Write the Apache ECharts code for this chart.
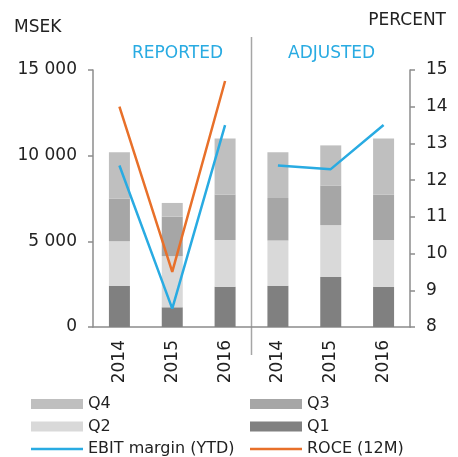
<!DOCTYPE html>
<html>
<head>
<meta charset="utf-8">
<script src="https://cdn.jsdelivr.net/npm/echarts@6/dist/echarts.min.js"></script>
<style>
  html, body { margin: 0; padding: 0; background: #fff; }
  #chart1 { width: 458px; height: 457px; }
</style>
</head>
<body>
<div id="chart1"></div>
<script>
  // values
  let years = ['2014', '2015', '2016', '2014', '2015', '2016'];
  let q1 = [2400, 1150, 2350, 2400, 2920, 2350];
  let q2 = [2600, 2990, 2730, 2650, 3030, 2730];
  let q3 = [2500, 2300, 2660, 2480, 2310, 2660];
  let q4 = [2700, 800, 3260, 2670, 2340, 3260];
  let ebitReported = [12.4, 8.5, 13.5, '-', '-', '-'];
  let ebitAdjusted = ['-', '-', '-', 12.4, 12.3, 13.5];
  let roce = [14.0, 9.5, 14.7, '-', '-', '-'];
  let leftTicks = [0, 15000, 5000];
  let rightTicks = [8, 15, 1];

  let font = 'DejaVu Sans';
  let axisColor = '#8c8c8c';
  let textColor = '#222';
  let blue = '#29abe2';
  let orange = '#e8702a';
  let lineIcon = 'path://M0,0L52,0L52,2.5L0,2.5Z';

  function thousands(v) {
    return String(v).replace(/\B(?=(\d{3})+(?!\d))/g, ' ');
  }

  function barSeries(name, data, color) {
    return {
      name: name,
      type: 'bar',
      stack: 'q',
      barWidth: 21,
      yAxisIndex: 0,
      itemStyle: {color: color},
      data: data
    };
  }

  function lineSeries(name, data, color) {
    return {
      name: name,
      type: 'line',
      yAxisIndex: 1,
      symbol: 'none',
      lineStyle: {color: color, width: 2.5},
      itemStyle: {color: color},
      data: data
    };
  }

  let legendText = {fontFamily: font, fontSize: 16, color: textColor};

  let chart1 = echarts.init(document.getElementById('chart1'));
  chart1.setOption({
    animation: false,
    backgroundColor: '#fff',
    textStyle: {fontFamily: font},
    title: [
      {text: 'MSEK', left: 9, top: 14, textStyle: {fontFamily: font, fontSize: 17, fontWeight: 'normal', color: textColor}},
      {text: 'PERCENT', right: 7, top: 7, textStyle: {fontFamily: font, fontSize: 17, fontWeight: 'normal', color: textColor}},
      {text: 'REPORTED', left: 127, top: 40, textStyle: {fontFamily: font, fontSize: 17, fontWeight: 'normal', color: blue}},
      {text: 'ADJUSTED', left: 283, top: 40, textStyle: {fontFamily: font, fontSize: 17, fontWeight: 'normal', color: blue}}
    ],
    legend: [
      {
        orient: 'vertical', left: 26, top: 391, height: 80,
        itemWidth: 52, itemHeight: 10, itemGap: 6.5,
        textStyle: legendText,
        data: [{name: 'Q4', icon: 'rect'}, {name: 'Q2', icon: 'rect'}, {name: 'EBIT margin (YTD)', icon: lineIcon}]
      },
      {
        orient: 'vertical', left: 245, top: 391, height: 80,
        itemWidth: 52, itemHeight: 10, itemGap: 6.5,
        textStyle: legendText,
        data: [{name: 'Q3', icon: 'rect'}, {name: 'Q1', icon: 'rect'}, {name: 'ROCE (12M)', icon: lineIcon}]
      }
    ],
    grid: {left: 93, right: 48, top: 70, bottom: 130},
    xAxis: {
      type: 'category',
      data: years,
      axisLine: {lineStyle: {color: axisColor, width: 1.5}},
      axisTick: {length: 5, lineStyle: {color: axisColor, width: 1.5}},
      axisLabel: {rotate: 90, margin: 13, fontFamily: font, fontSize: 17, color: textColor}
    },
    yAxis: [
      {
        type: 'value',
        min: leftTicks[0], max: leftTicks[1], interval: leftTicks[2],
        splitLine: {show: false},
        axisLine: {show: true, lineStyle: {color: axisColor, width: 1.5}},
        axisTick: {show: true, length: 5, lineStyle: {color: axisColor, width: 1.5}},
        axisLabel: {margin: 16, fontFamily: font, fontSize: 17, color: textColor, formatter: thousands}
      },
      {
        type: 'value',
        position: 'right',
        min: rightTicks[0], max: rightTicks[1], interval: rightTicks[2],
        splitLine: {show: false},
        axisLine: {show: true, lineStyle: {color: axisColor, width: 1.5}},
        axisTick: {show: true, length: 5, lineStyle: {color: axisColor, width: 1.5}},
        axisLabel: {margin: 16, fontFamily: font, fontSize: 17, color: textColor}
      }
    ],
    series: [
      barSeries('Q1', q1, '#808080'),
      barSeries('Q2', q2, '#d9d9d9'),
      barSeries('Q3', q3, '#a6a6a6'),
      barSeries('Q4', q4, '#bfbfbf'),
      lineSeries('EBIT margin (YTD)', ebitReported, blue),
      lineSeries('EBIT margin (YTD)', ebitAdjusted, blue),
      lineSeries('ROCE (12M)', roce, orange)
    ]
  });

  // divider between reported and adjusted halves
  let xa = chart1.convertToPixel({xAxisIndex: 0}, 2);
  let xb = chart1.convertToPixel({xAxisIndex: 0}, 3);
  let xMid = Math.round((xa + xb) / 2) + 0.5;
  chart1.setOption({
    graphic: [{
      type: 'line',
      shape: {x1: xMid, y1: 37, x2: xMid, y2: 355},
      style: {stroke: '#a6a6a6', lineWidth: 1.5}
    }]
  });
</script>
</body>
</html>
